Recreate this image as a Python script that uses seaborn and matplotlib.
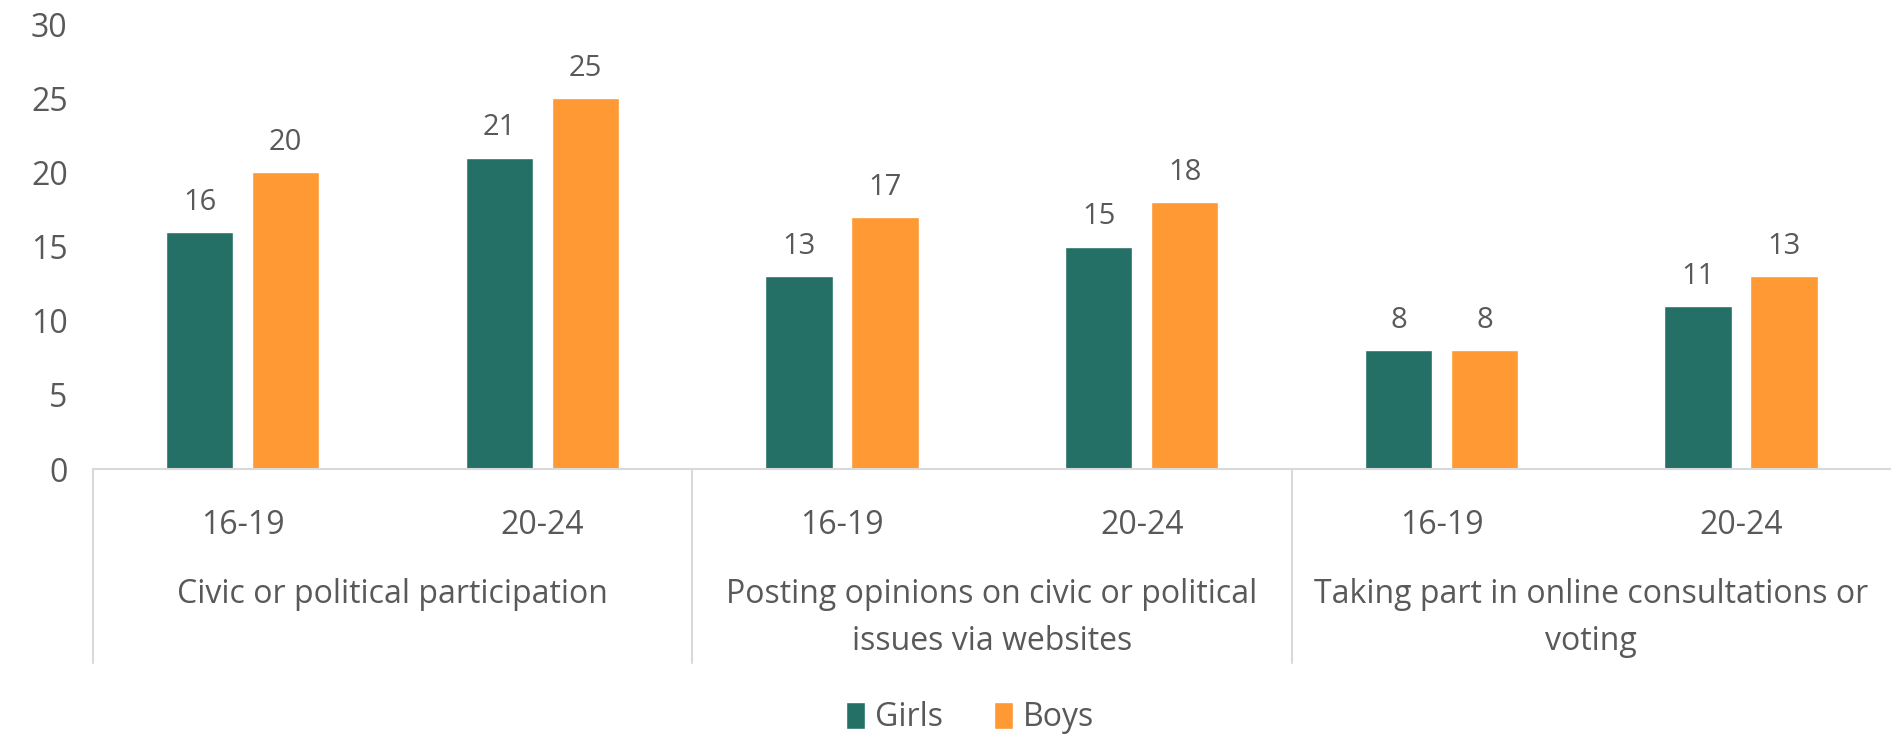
import matplotlib
matplotlib.use("Agg")
import matplotlib.pyplot as plt
import matplotlib.transforms as mtransforms
import pandas as pd
import seaborn as sns

groups = ["Civic or political participation",
          "Posting opinions on civic or political\nissues via websites",
          "Taking part in online consultations or\nvoting"]
ages = ["16-19", "20-24"]
girls = [16, 21, 13, 15, 8, 11]
boys = [20, 25, 17, 18, 8, 13]

teal = "#246F66"
orange = "#FF9933"
grey = "#595959"

keys = [f"{g}|{a}" for g in groups for a in ages]
df = pd.DataFrame({
    "key": keys * 2,
    "gender": ["Girls"] * 6 + ["Boys"] * 6,
    "value": girls + boys,
})

sns.set_style("white")
plt.rcParams["font.family"] = ["Open Sans", "DejaVu Sans"]

fig = plt.figure(figsize=(18.91, 7.34), dpi=100)
ax = fig.add_axes([0.049, 0.361, 0.951, 0.606])

sns.barplot(data=df, x="key", y="value", hue="gender", order=keys,
            hue_order=["Girls", "Boys"], palette=[teal, orange],
            width=0.574, gap=0.216, saturation=1, ax=ax, legend=True)

for c in ax.containers:
    ax.bar_label(c, padding=11, fontsize=21, color=grey)

ax.set_xlim(-0.5, 5.5)
ax.set_ylim(0, 30)
ax.set_yticks(range(0, 31, 5))
ax.set_xticks(range(6))
ax.set_xticklabels(ages * 3)
ax.tick_params(axis="y", length=0, labelsize=23, labelcolor=grey, pad=18)
ax.tick_params(axis="x", length=0, labelsize=23, labelcolor=grey, pad=29)
ax.set_xlabel("")
ax.set_ylabel("")
for s in ["left", "top", "right"]:
    ax.spines[s].set_visible(False)
ax.spines["bottom"].set_color("#D9D9D9")
ax.spines["bottom"].set_linewidth(1.5)

trans = mtransforms.blended_transform_factory(ax.transData, ax.transAxes)
for i, g in enumerate(groups):
    ax.text(2 * i + 0.5, -0.245, g, transform=trans, ha="center", va="top",
            fontsize=23, color=grey, linespacing=1.55)
for xs in [-0.5, 1.5, 3.5]:
    ax.plot([xs, xs], [0, -0.436], transform=trans, color="#D9D9D9",
            lw=1.5, clip_on=False)

h, l = ax.get_legend_handles_labels()
ax.legend_.remove()
fig.legend(h, l, loc="center", bbox_to_anchor=(0.513, 0.022), ncol=2,
           frameon=False, fontsize=23, labelcolor=grey, handlelength=0.6,
           handleheight=0.9, handletextpad=0.3, columnspacing=1.6)

fig.savefig("out.png", dpi=100)
